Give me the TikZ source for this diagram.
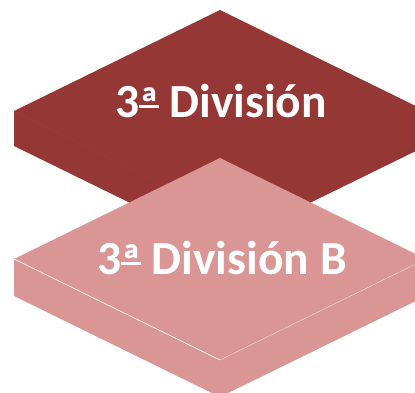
\documentclass[tikz,border=0pt]{standalone}
\usepackage{fontspec}
\setmainfont{Carlito}
\definecolor{divdark}{HTML}{953735}
\definecolor{divlight}{HTML}{D99694}
\newsavebox\ordbox
\newcommand{\ordA}{\sbox\ordbox{ª}\rlap{\raisebox{-0.07em}{\usebox\ordbox}}\rule[0.2em]{\wd\ordbox}{0.055em}}
\tikzset{divlabel/.style={text=white, font=\fontsize{47.5}{47.5}\selectfont\bfseries, anchor=base, inner sep=0pt}}

\begin{document}
\begin{tikzpicture}[x=1pt,y=-1pt]
			\useasboundingbox (0,0) rectangle (415,392);
			\clip (0,0) rectangle (415,392);
			% upper slab
			\fill[divdark] (220,10) -- (426,111) -- (426,146) -- (220,247) -- (14,146) -- (14,111) -- cycle;
			\draw[divdark!94!white, very thin] (14,111) -- (165,185);
			% lower slab
			\fill[divlight] (220,158) -- (426,259) -- (426,296) -- (220,397) -- (14,296) -- (14,259) -- cycle;
			\draw[white, semithick] (14,259) -- (220,360);
			\draw[white, very thin] (220,360) -- (426,259);
			\node[divlabel] (tercera) at (221,117) {3\ordA{} División};
			\node[divlabel] (tercerab) at (222,274) {3\ordA{} División B};
		\end{tikzpicture}
\end{document}
